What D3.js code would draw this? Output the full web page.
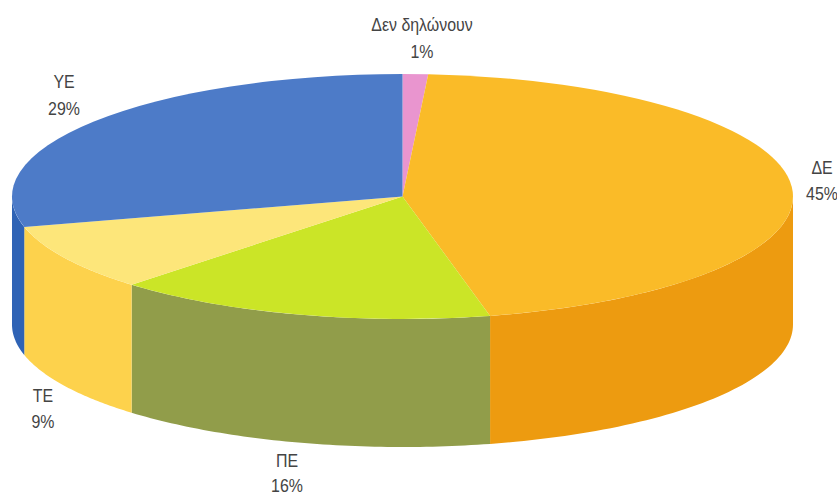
<!DOCTYPE html>
<html><head><meta charset="utf-8">
<style>html,body{margin:0;background:#fff}svg{display:block}text{font-family:"Liberation Sans",Arial,sans-serif;fill:#444;font-size:17.5px;text-anchor:middle}</style>
<script src="https://cdn.jsdelivr.net/npm/d3@7"></script></head><body>
<svg id="c" width="837" height="496"></svg>
<script>
const categories=["Δεν δηλώνουν","ΔΕ","ΠΕ","ΤΕ","ΥΕ"];
const values=[1.05,45.35,15.8,8.8,29];
const labels=["1%","45%","16%","9%","29%"];
const topColors=["#E995CF","#FABB28","#CBE527","#FDE67A","#4D7BC8"];
const sideColors=["#D47FB8","#ED9B10","#919D4A","#FDD24C","#2F63B5"];
const labelPos=[[422,25,52],[822,168,194],[287,461,486],[43,396,422],[64,82,109]];
const W=837,H=496,cx=402.5,cy=196.5,rx=390.5,ry=122.5,depth=128;
const svg=d3.select("#c");
const pie=d3.pie().sort(null).value(d=>d)(values);
const px=a=>cx+rx*Math.sin(a), py=a=>cy-ry*Math.cos(a);
const walls=svg.append("g"), tops=svg.append("g").attr("transform",`translate(${cx},${cy}) scale(1,${ry/rx})`);
const area=d3.area().x(a=>px(a)).y0(a=>py(a)).y1(a=>py(a)+depth);
pie.forEach((p,i)=>{
  const a0=Math.max(p.startAngle,Math.PI/2),a1=Math.min(p.endAngle,Math.PI*1.5);
  if(a1>a0){
    walls.append("path").attr("d",area(d3.range(0,61).map(k=>a0+(a1-a0)*k/60))).attr("fill",sideColors[i]);
  }
});
const arc=d3.arc().innerRadius(0).outerRadius(rx);
tops.selectAll("path").data(pie).join("path").attr("d",arc).attr("fill",(d,i)=>topColors[i]);
const put=(x,y,t)=>svg.append("text").attr("transform",`translate(${x},${y}) scale(0.91,1)`).text(t);
categories.forEach((c,i)=>{
  put(labelPos[i][0],labelPos[i][1]+6,c);
  put(labelPos[i][0],labelPos[i][2]+6,labels[i]);
});
</script></body></html>
